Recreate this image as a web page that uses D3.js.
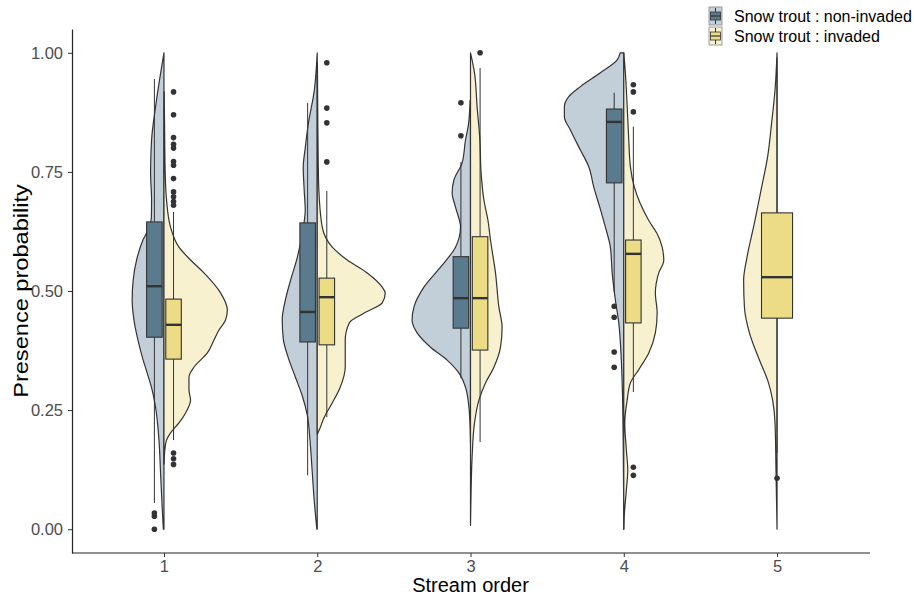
<!DOCTYPE html>
<html>
<head>
<meta charset="utf-8">
<script src="https://cdn.jsdelivr.net/npm/d3@7"></script>
<style>
  body { margin: 0; background: #fff; }
  text { font-family: "Liberation Sans", Arial, sans-serif; }
</style>
</head>
<body>
<div id="chart"></div>
<script>
var width = 914,
    height = 596,
    margin = {top: 29, right: 45, bottom: 43, left: 72};

var streamOrders = ["1", "2", "3", "4", "5"];
var seriesNames = ["non-invaded", "invaded"];
var legendLabels = ["Snow trout : non-invaded", "Snow trout : invaded"];
var yTicks = [0, 0.25, 0.5, 0.75, 1];

// box stats per stream order: [lower whisker, q1, median, q3, upper whisker]
var boxNonInvaded = [
  [0.055, 0.403, 0.510, 0.645, 0.945],
  [0.113, 0.393, 0.456, 0.643, 0.895],
  [0.317, 0.422, 0.485, 0.572, 0.771],
  [0.498, 0.727, 0.855, 0.882, 0.916],
  null
];
var boxInvaded = [
  [0.187, 0.357, 0.429, 0.483, 0.666],
  [0.235, 0.387, 0.487, 0.527, 0.710],
  [0.183, 0.376, 0.485, 0.614, 0.968],
  [0.288, 0.433, 0.578, 0.607, 0.845],
  [0.160, 0.443, 0.529, 0.664, 0.990]
];

var outNonInvaded = [
  [0.034, 0.027, 0.0],
  [],
  [0.895, 0.826],
  [0.468, 0.445, 0.372, 0.340],
  []
];
var outInvaded = [
  [0.918, 0.870, 0.822, 0.808, 0.800, 0.772, 0.764, 0.736, 0.708, 0.698, 0.688, 0.680, 0.160, 0.148, 0.136],
  [0.979, 0.884, 0.853, 0.771],
  [1.0],
  [0.933, 0.918, 0.876, 0.130, 0.113],
  [0.107]
];

// violin outlines: [value, density]
var densNonInvaded = [
  [[1.0,0],[0.887,0.42],[0.817,0.62],[0.748,0.67],[0.691,0.62],[0.655,0.63],[0.628,0.8],[0.607,1.05],
   [0.565,1.37],[0.523,1.54],[0.481,1.59],[0.439,1.5],[0.397,1.3],[0.355,1.04],[0.328,0.84],[0.292,0.59],
   [0.256,0.42],[0.187,0.25],[0.118,0.17],[0.046,0.09],[0.0,0.03]],
  [[1.0,0],[0.92,0.15],[0.85,0.45],[0.80,0.6],[0.76,0.7],[0.71,0.65],[0.67,0.6],[0.62,0.75],[0.57,1.0],
   [0.52,1.35],[0.48,1.6],[0.44,1.75],[0.40,1.7],[0.36,1.45],[0.32,1.1],[0.28,0.75],[0.24,0.5],[0.18,0.35],
   [0.12,0.25],[0.06,0.15],[0.0,0.02]],
  [[0.90,0.02],[0.85,0.1],[0.817,0.25],[0.769,0.42],[0.733,0.83],[0.706,0.92],[0.676,0.75],[0.634,0.5],
   [0.592,0.75],[0.550,1.5],[0.508,2.33],[0.466,2.83],[0.439,2.92],[0.412,2.67],[0.382,2.0],[0.355,1.17],
   [0.328,0.58],[0.298,0.25],[0.256,0.08],[0.214,0.02],[0.18,0]],
  [[1.0,0.18],[0.985,0.33],[0.958,1.17],[0.929,2.17],[0.908,2.75],[0.887,2.97],[0.866,2.97],[0.838,2.67],
   [0.796,2.17],[0.761,1.75],[0.718,1.5],[0.676,1.2],[0.634,0.92],[0.592,0.67],[0.538,0.58],[0.481,0.42],
   [0.433,0.25],[0.361,0.13],[0.292,0.07],[0.187,0.03],[0.0,0]],
  null
];
var densInvaded = [
  [[0.918,0.01],[0.85,0.03],[0.75,0.06],[0.691,0.13],[0.634,0.33],[0.592,0.75],[0.565,1.33],[0.538,2.0],
   [0.496,2.83],[0.460,3.17],[0.439,3.08],[0.418,2.75],[0.397,2.5],[0.370,2.17],[0.340,1.5],[0.319,1.25],
   [0.292,1.25],[0.271,1.33],[0.244,1.08],[0.223,0.75],[0.202,0.33],[0.187,0.13],[0.166,0.04],[0.137,0.01]],
  [[0.98,0.01],[0.85,0.03],[0.77,0.05],[0.712,0.08],[0.634,0.25],[0.592,0.75],[0.565,1.5],[0.538,2.5],
   [0.508,3.25],[0.496,3.4],[0.475,3.25],[0.454,2.35],[0.433,1.6],[0.397,1.4],[0.340,1.4],[0.298,1.15],
   [0.265,0.75],[0.235,0.35],[0.208,0.1],[0.20,0.01]],
  [[1.0,0],[0.958,0.2],[0.887,0.33],[0.817,0.47],[0.748,0.53],[0.691,0.67],[0.649,0.87],[0.607,1.0],
   [0.538,1.25],[0.466,1.42],[0.424,1.58],[0.382,1.5],[0.340,1.17],[0.307,0.75],[0.271,0.42],[0.223,0.2],
   [0.151,0.08],[0.082,0.03],[0.008,0]],
  [[1.0,0],[0.958,0.08],[0.887,0.17],[0.817,0.25],[0.761,0.33],[0.718,0.53],[0.683,0.83],[0.648,1.25],
   [0.620,1.67],[0.592,1.92],[0.564,2.0],[0.538,1.75],[0.496,1.58],[0.454,1.67],[0.412,1.58],[0.370,1.25],
   [0.335,0.75],[0.307,0.33],[0.271,0.17],[0.223,0.05],[0.166,0.13],[0.124,0.2],[0.082,0.13],[0.032,0.03],[0.0,0]],
  [[1.0,0],[0.922,0.1],[0.853,0.27],[0.782,0.47],[0.712,0.8],[0.643,1.13],[0.571,1.5],[0.523,1.67],
   [0.466,1.63],[0.412,1.38],[0.355,0.88],[0.313,0.47],[0.271,0.22],[0.223,0.1],[0.118,0.05],[0.0,0]]
];

var boxFill = {"non-invaded": "#5a7b8e", "invaded": "#ecdc86"};
var violinFill = {"non-invaded": "#c2ced8", "invaded": "#f8f1d0"};
var ink = "#333333";

var xScale = d3.scalePoint()
    .domain(streamOrders)
    .range([margin.left, width - margin.right])
    .padding(0.6);
var yScale = d3.scaleLinear()
    .domain([-0.05, 1.05])
    .range([height - margin.bottom, margin.top]);
var wScale = d3.scaleLinear()
    .domain([0, 3.5])
    .range([0, 70]);

var svg = d3.select("#chart").append("svg")
    .attr("width", width)
    .attr("height", height);

// gather marks per stream order
var groups = streamOrders.map(function(o, i) {
  var series = [];
  if (densNonInvaded[i]) series.push({name: "non-invaded", dens: densNonInvaded[i], box: boxNonInvaded[i], out: outNonInvaded[i]});
  if (densInvaded[i]) series.push({name: "invaded", dens: densInvaded[i], box: boxInvaded[i], out: outInvaded[i]});
  series.forEach(function(s, j) { s.side = j === 0 ? -1 : 1; });
  return {order: o, series: series};
});

var dodgeW = xScale.step() * 0.25;

// split violins
groups.forEach(function(g) {
  var cx = xScale(g.order);
  g.series.forEach(function(s) {
    var pts = s.dens.slice().sort(function(a, b) { return a[0] - b[0]; });
    var area = d3.area()
        .curve(d3.curveMonotoneY)
        .y(function(d) { return yScale(d[0]); })
        .x0(cx)
        .x1(function(d) { return cx + s.side * wScale(d[1]); });
    svg.append("path")
        .attr("d", area(pts) + "Z")
        .attr("fill", violinFill[s.name])
        .attr("stroke", ink)
        .attr("stroke-width", 1.2)
        .attr("stroke-linejoin", "round");
  });
});

// boxplots
groups.forEach(function(g) {
  var cx = xScale(g.order);
  var dodge = d3.scaleBand()
      .domain(g.series.map(function(s) { return s.name; }))
      .range([cx - dodgeW / 2, cx + dodgeW / 2]);
  var bw = dodge.bandwidth() * 0.81;
  g.series.forEach(function(s) {
    var bx = dodge(s.name) + dodge.bandwidth() / 2;
    var b = s.box;
    var bg = svg.append("g");
    bg.append("line")
        .attr("x1", bx).attr("x2", bx)
        .attr("y1", yScale(b[0])).attr("y2", yScale(b[1]))
        .attr("stroke", ink).attr("stroke-width", 1);
    bg.append("line")
        .attr("x1", bx).attr("x2", bx)
        .attr("y1", yScale(b[3])).attr("y2", yScale(b[4]))
        .attr("stroke", ink).attr("stroke-width", 1);
    bg.append("rect")
        .attr("x", bx - bw / 2)
        .attr("y", yScale(b[3]))
        .attr("width", bw)
        .attr("height", yScale(b[1]) - yScale(b[3]))
        .attr("fill", boxFill[s.name])
        .attr("stroke", ink)
        .attr("stroke-width", 1.1);
    bg.append("line")
        .attr("x1", bx - bw / 2).attr("x2", bx + bw / 2)
        .attr("y1", yScale(b[2])).attr("y2", yScale(b[2]))
        .attr("stroke", ink).attr("stroke-width", 2.4);
    bg.selectAll("circle")
        .data(s.out)
      .enter().append("circle")
        .attr("cx", bx)
        .attr("cy", function(d) { return yScale(d); })
        .attr("r", 2.8)
        .attr("fill", ink);
  });
});

// axes
var xAxis = svg.append("g")
    .attr("transform", "translate(0," + (height - margin.bottom) + ")")
    .call(d3.axisBottom(xScale).tickSize(4).tickSizeOuter(0).tickPadding(3));
var yAxis = svg.append("g")
    .attr("transform", "translate(" + margin.left + ",0)")
    .call(d3.axisLeft(yScale).tickValues(yTicks).tickFormat(d3.format(".2f"))
      .tickSize(4).tickSizeOuter(0).tickPadding(5));

[xAxis, yAxis].forEach(function(a) {
  a.select(".domain").attr("stroke", "#222").attr("stroke-width", 1.2);
  a.selectAll(".tick line").attr("stroke", "#333");
  a.selectAll(".tick text")
      .attr("fill", "#4d4d4d")
      .style("font-size", "16.5px")
      .style("font-family", "'Liberation Sans', Arial, sans-serif");
});
xAxis.select(".domain").attr("d", "M" + margin.left + ",0H" + (width - margin.right + 1));

svg.append("text")
    .attr("x", xScale("3"))
    .attr("y", 592)
    .attr("text-anchor", "middle")
    .style("font-size", "20px")
    .text("Stream order");

svg.append("text")
    .attr("transform", "translate(28," + yScale(0.5) + ") rotate(-90) scale(1.18,1)")
    .attr("text-anchor", "middle")
    .style("font-size", "20px")
    .text("Presence probability");

// legend
var legend = svg.append("g")
    .attr("transform", "translate(709,7)");

var key = legend.selectAll("g")
    .data(seriesNames)
  .enter().append("g")
    .attr("transform", function(d, i) { return "translate(0," + (i * 20) + ")"; });

key.append("rect")
    .attr("width", 13).attr("height", 18)
    .attr("fill", function(d) { return violinFill[d]; })
    .attr("stroke", "#888").attr("stroke-width", 0.8);
key.append("line")
    .attr("x1", 6.5).attr("x2", 6.5).attr("y1", 1).attr("y2", 17)
    .attr("stroke", ink).attr("stroke-width", 1);
key.append("rect")
    .attr("x", 1.5).attr("y", 5).attr("width", 10).attr("height", 8)
    .attr("fill", function(d) { return boxFill[d]; })
    .attr("stroke", ink).attr("stroke-width", 0.8);
key.append("line")
    .attr("x1", 1.5).attr("x2", 11.5).attr("y1", 9).attr("y2", 9)
    .attr("stroke", ink).attr("stroke-width", 1.2);

key.append("text")
    .attr("x", 25)
    .attr("y", 15)
    .style("font-size", "16px")
    .text(function(d, i) { return legendLabels[i]; });
</script>
</body>
</html>
